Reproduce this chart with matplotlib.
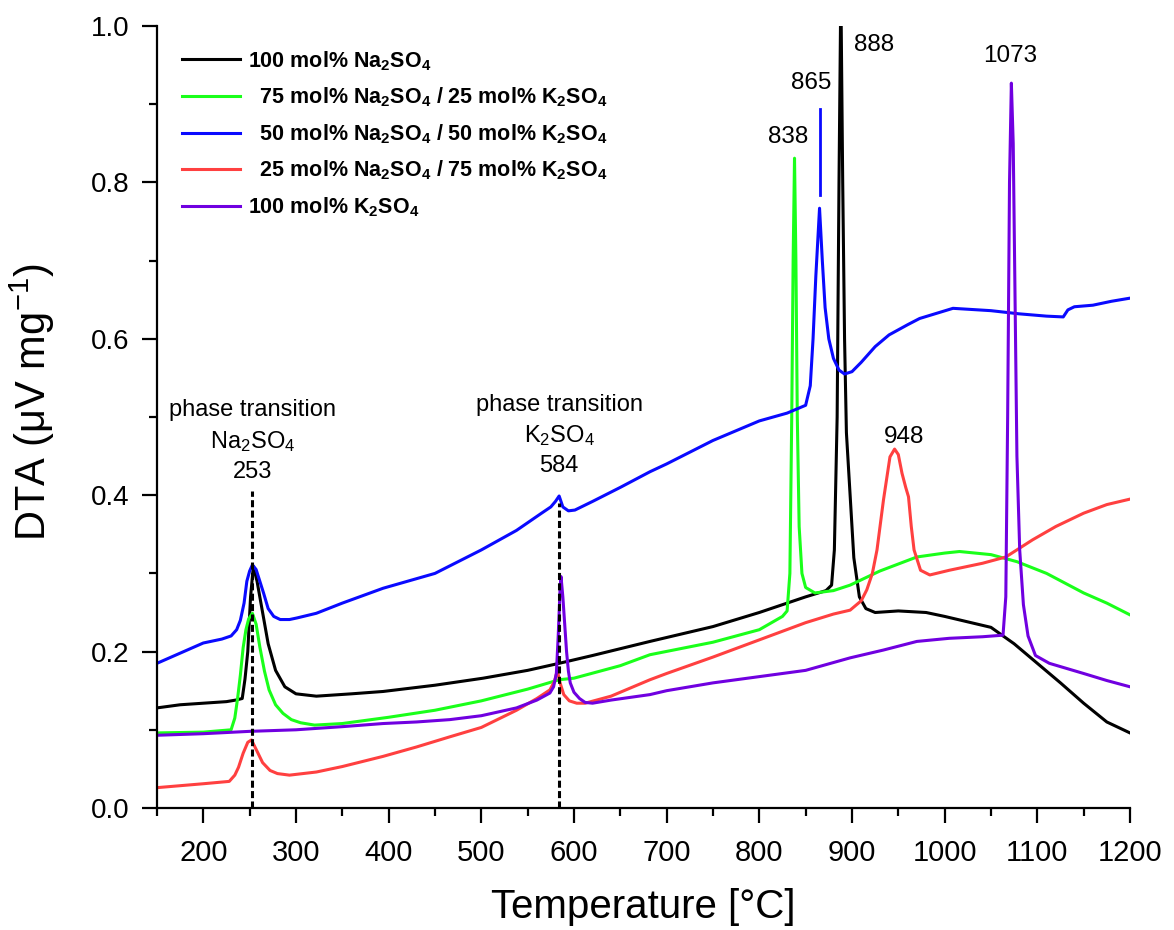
import numpy as np
import matplotlib
matplotlib.use('Agg')
import matplotlib.pyplot as plt
from matplotlib.ticker import MultipleLocator, FormatStrFormatter

plt.rcParams['font.family'] = ['Liberation Sans', 'DejaVu Sans']
plt.rcParams['mathtext.fontset'] = 'custom'
plt.rcParams['mathtext.rm'] = 'Liberation Sans'
plt.rcParams['mathtext.bf'] = 'Liberation Sans:bold'
plt.rcParams['mathtext.it'] = 'Liberation Sans:italic'

# 100 mol% Na2SO4
t_na = [150, 175, 200, 225, 235, 242, 245, 248, 251, 254, 258, 264, 270, 278, 288, 300, 322,
        360, 394, 450, 502, 550, 584, 620, 682, 750, 800, 850, 872, 878, 881, 884, 886,
        888, 890, 892, 894, 898, 902, 908, 915, 925, 950, 980, 1000, 1025, 1050, 1075,
        1100, 1125, 1150, 1175, 1200]
y_na = [.128, .132, .134, .136, .138, .14, .165, .2, .27, .309, .29, .25, .21, .176, .155,
        .146, .143, .146, .149, .157, .166, .176, .185, .195, .213, .232, .25, .27, .278,
        .285, .33, .5, .8, 1.05, .8, .6, .48, .4, .32, .27, .255, .25, .252, .25, .245,
        .238, .231, .21, .185, .16, .134, .11, .096]

# 75 mol% Na2SO4 / 25 mol% K2SO4
t_75 = [150, 200, 230, 234, 237, 240, 243, 246, 249, 253, 257, 261, 266, 271, 278, 286, 295,
        305, 320, 350, 400, 450, 500, 550, 584, 600, 650, 682, 750, 800, 825, 830, 833,
        835, 836.5, 838, 839.5, 841, 843, 846, 850, 860, 880, 898, 930, 970, 1000, 1016,
        1050, 1078, 1110, 1150, 1175, 1200]
y_75 = [.096, .097, .1, .115, .14, .17, .205, .228, .242, .249, .235, .206, .175, .151, .132,
        .121, .113, .109, .106, .108, .116, .125, .137, .152, .164, .166, .182, .196, .212,
        .228, .245, .252, .3, .5, .7, .831, .7, .5, .36, .3, .282, .275, .278, .285, .303,
        .321, .326, .328, .324, .315, .3, .275, .262, .247]

# 50 mol% Na2SO4 / 50 mol% K2SO4
t_50 = [150, 175, 200, 220, 230, 236, 240, 244, 247, 250, 253, 257, 261, 265, 270, 276, 283,
        293, 301, 322, 350, 394, 450, 500, 538, 565, 575, 580, 584, 588, 594, 601, 620,
        650, 682, 700, 750, 800, 830, 850, 855, 858, 861, 865, 868, 871, 875, 880, 886,
        892, 900, 910, 925, 940, 960, 973, 1009, 1050, 1080, 1110, 1128, 1133, 1140, 1160,
        1180, 1200]
y_50 = [.185, .198, .211, .216, .22, .228, .24, .262, .29, .303, .311, .305, .29, .275, .255,
        .245, .241, .241, .243, .249, .262, .281, .3, .33, .355, .377, .385, .392, .399,
        .385, .38, .381, .392, .41, .43, .44, .47, .495, .505, .515, .54, .6, .68, .767,
        .7, .64, .6, .575, .56, .555, .558, .57, .59, .605, .618, .626, .639, .636, .632,
        .629, .628, .637, .641, .643, .648, .652]

# 25 mol% Na2SO4 / 75 mol% K2SO4
t_25 = [150, 200, 228, 234, 238, 243, 248, 252, 257, 264, 272, 280, 293, 322, 350, 394, 430,
        466, 500, 538, 560, 574, 579, 582, 585, 589, 595, 603, 612, 640, 682, 700, 750,
        800, 850, 880, 898, 910, 916, 922, 927, 934, 941, 946, 950, 954, 958, 961, 964,
        967, 974, 984, 1005, 1041, 1066, 1095, 1120, 1150, 1175, 1200]
y_25 = [.026, .031, .034, .042, .052, .07, .084, .087, .075, .058, .048, .044, .042, .046,
        .053, .066, .078, .091, .103, .125, .14, .151, .162, .176, .16, .145, .137, .134,
        .134, .143, .164, .172, .193, .215, .237, .248, .253, .265, .279, .3, .33, .394,
        .449, .459, .452, .428, .41, .398, .36, .33, .304, .298, .304, .313, .321, .343,
        .36, .377, .388, .395]

# 100 mol% K2SO4
t_k = [150, 200, 250, 300, 350, 394, 430, 466, 500, 538, 560, 574, 578, 581, 583, 585, 586,
       588, 590, 592, 594, 596, 600, 606, 612, 620, 640, 682, 700, 750, 800, 850, 898, 934,
       970, 1005, 1041, 1063, 1066, 1068, 1070, 1072, 1074, 1076, 1078, 1081, 1085, 1090,
       1098, 1113, 1150, 1175, 1200]
y_k = [.093, .095, .098, .1, .104, .108, .11, .113, .118, .128, .138, .147, .155, .172, .22,
       .28, .296, .27, .235, .2, .175, .16, .148, .14, .135, .134, .138, .145, .15, .16,
       .168, .176, .192, .202, .213, .217, .219, .221, .27, .5, .8, .927, .85, .65, .45,
       .33, .26, .22, .195, .185, .172, .163, .155]

labels = [r'100 mol% $\mathbf{Na_2SO_4}$',
          r'  75 mol% $\mathbf{Na_2SO_4}$ / 25 mol% $\mathbf{K_2SO_4}$',
          r'  50 mol% $\mathbf{Na_2SO_4}$ / 50 mol% $\mathbf{K_2SO_4}$',
          r'  25 mol% $\mathbf{Na_2SO_4}$ / 75 mol% $\mathbf{K_2SO_4}$',
          r'100 mol% $\mathbf{K_2SO_4}$']
colors = ['black', '#1aff1a', '#0a0aff', '#ff4040', '#7000e0']

# phase transitions (x, top of dashed line, text)
trans_x = [253, 584]
trans_top = [0.405, 0.39]
trans_text = ['phase transition\n$\\mathrm{Na_2SO_4}$\n253',
              'phase transition\n$\\mathrm{K_2SO_4}$\n584']
trans_text_y = [0.416, 0.423]

# peak labels
peak_text = ['838', '865', '888', '1073', '948']
peak_x = [831, 856, 924, 1070.5, 956]
peak_y = [0.858, 0.927, 0.976, 0.962, 0.474]
mark_865 = ([865, 865], [0.784, 0.894])

fig = plt.figure(figsize=(11.74, 9.3), dpi=100)
ax = fig.add_axes([0.1337, 0.1312, 0.8288, 0.8408])

series = [(t_na, y_na), (t_75, y_75), (t_50, y_50), (t_25, y_25), (t_k, y_k)]
for (t, y), c, lab in zip(series, colors, labels):
    ax.plot(t, y, color=c, lw=2.2, label=lab)
ax.plot(mark_865[0], mark_865[1], color=colors[2], lw=2.0)

for x, top, txt, ty in zip(trans_x, trans_top, trans_text, trans_text_y):
    ax.plot([x, x], [0, top], color='black', ls='--', lw=2.2, dashes=(2.3, 1.1))
    ax.text(x, ty, txt, ha='center', va='bottom', fontsize=17, linespacing=1.4)

for txt, x, y in zip(peak_text, peak_x, peak_y):
    ax.text(x, y, txt, ha='center', va='center', fontsize=17.5)

ax.set_xlim(150, 1200)
ax.set_ylim(0, 1.0)
ax.set_xticks(np.arange(200, 1201, 100))
ax.xaxis.set_minor_locator(MultipleLocator(50))
ax.yaxis.set_major_locator(MultipleLocator(0.2))
ax.yaxis.set_minor_locator(MultipleLocator(0.1))
ax.yaxis.set_major_formatter(FormatStrFormatter('%.1f'))
for s in ['top', 'right']:
    ax.spines[s].set_visible(False)
for s in ['left', 'bottom']:
    ax.spines[s].set_linewidth(1.6)
ax.tick_params(which='major', length=11, width=1.6)
ax.tick_params(which='minor', length=5.5, width=1.6)
ax.tick_params(axis='x', which='major', pad=11, labelsize=21)
ax.tick_params(axis='y', which='major', pad=9, labelsize=20)

ax.set_xlabel('Temperature [°C]', fontsize=29)
ax.xaxis.set_label_coords(0.5, -0.102)
ax.set_ylabel(r'DTA ($\mathrm{\mu}$V mg$^{\mathrm{-1}}$)', fontsize=30)
ax.yaxis.set_label_coords(-0.103, 0.519)

ax.legend(loc='upper left', bbox_to_anchor=(0.0257, 0.9706), frameon=False,
          prop={'size': 15.5, 'weight': 'bold'}, handlelength=2.7, handletextpad=0.37,
          labelspacing=0.6, borderpad=0, borderaxespad=0)

fig.savefig('out.png', dpi=100)
